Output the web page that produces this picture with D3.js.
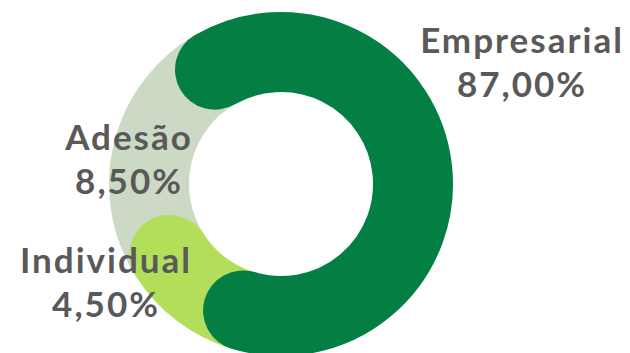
<!DOCTYPE html>
<html>
<head>
<meta charset="utf-8">
<script src="https://cdn.jsdelivr.net/npm/d3@7"></script>
<style>
  html, body { margin: 0; padding: 0; background: #fff; }
  svg { display: block; }
</style>
</head>
<body>
<script>
// data
const categories = ['Empresarial', 'Individual', 'Adesão'];
const values = [87.0, 4.5, 8.5];
const colors = ['#047f43', '#b3de5a', '#ccd9c4'];

const width = 630, height = 353;
const cx = 281, cy = 184;
const midR = 132, thick = 80;

let svg = d3.select('body').append('svg')
    .attr('width', width)
    .attr('height', height);

// cumulative boundaries -> angle (degrees, clockwise from top); the design is not proportional
let bounds = [0];
values.forEach((v, i) => bounds.push(bounds[i] + v));
let angle = d3.scaleLinear()
    .domain(bounds)
    .range([330, 556.7, 597.6, 690]);

let segs = categories.map((c, i) => ({
    name: c, value: values[i], color: colors[i],
    a0: angle(bounds[i]), a1: angle(bounds[i + 1])
}));

function arcPath(a0, a1) {
    let p = d3.path();
    let toRad = d => (d - 90) * Math.PI / 180;
    p.arc(0, 0, midR, toRad(a0), toRad(a1), false);
    return p.toString();
}

let g = svg.append('g').attr('transform', 'translate(' + cx + ',' + cy + ')');

// draw the last segment first so the big one sits on top
g.selectAll('path')
    .data(segs.slice().reverse())
    .enter()
    .append('path')
    .attr('d', d => arcPath(d.a0, d.a1))
    .attr('fill', 'none')
    .attr('stroke', d => d.color)
    .attr('stroke-width', thick)
    .attr('stroke-linecap', 'round');

// labels
let fmt = v => v.toFixed(2).replace('.', ',') + '%';
let labelPos = {'Empresarial': [522, 53], 'Adesão': [129, 150], 'Individual': [106, 273]};

let labels = svg.append('g')
    .style('font-family', 'Lato, "Open Sans", sans-serif')
    .style('font-weight', 'bold')
    .style('font-size', '35px')
    .style('letter-spacing', '2px')
    .attr('fill', '#595959')
    .attr('text-anchor', 'middle');

segs.forEach(d => {
    let [x, y] = labelPos[d.name];
    labels.append('text').attr('x', x).attr('y', y).text(d.name);
    labels.append('text').attr('x', x).attr('y', y + 44).text(fmt(d.value));
});
</script>
</body>
</html>
